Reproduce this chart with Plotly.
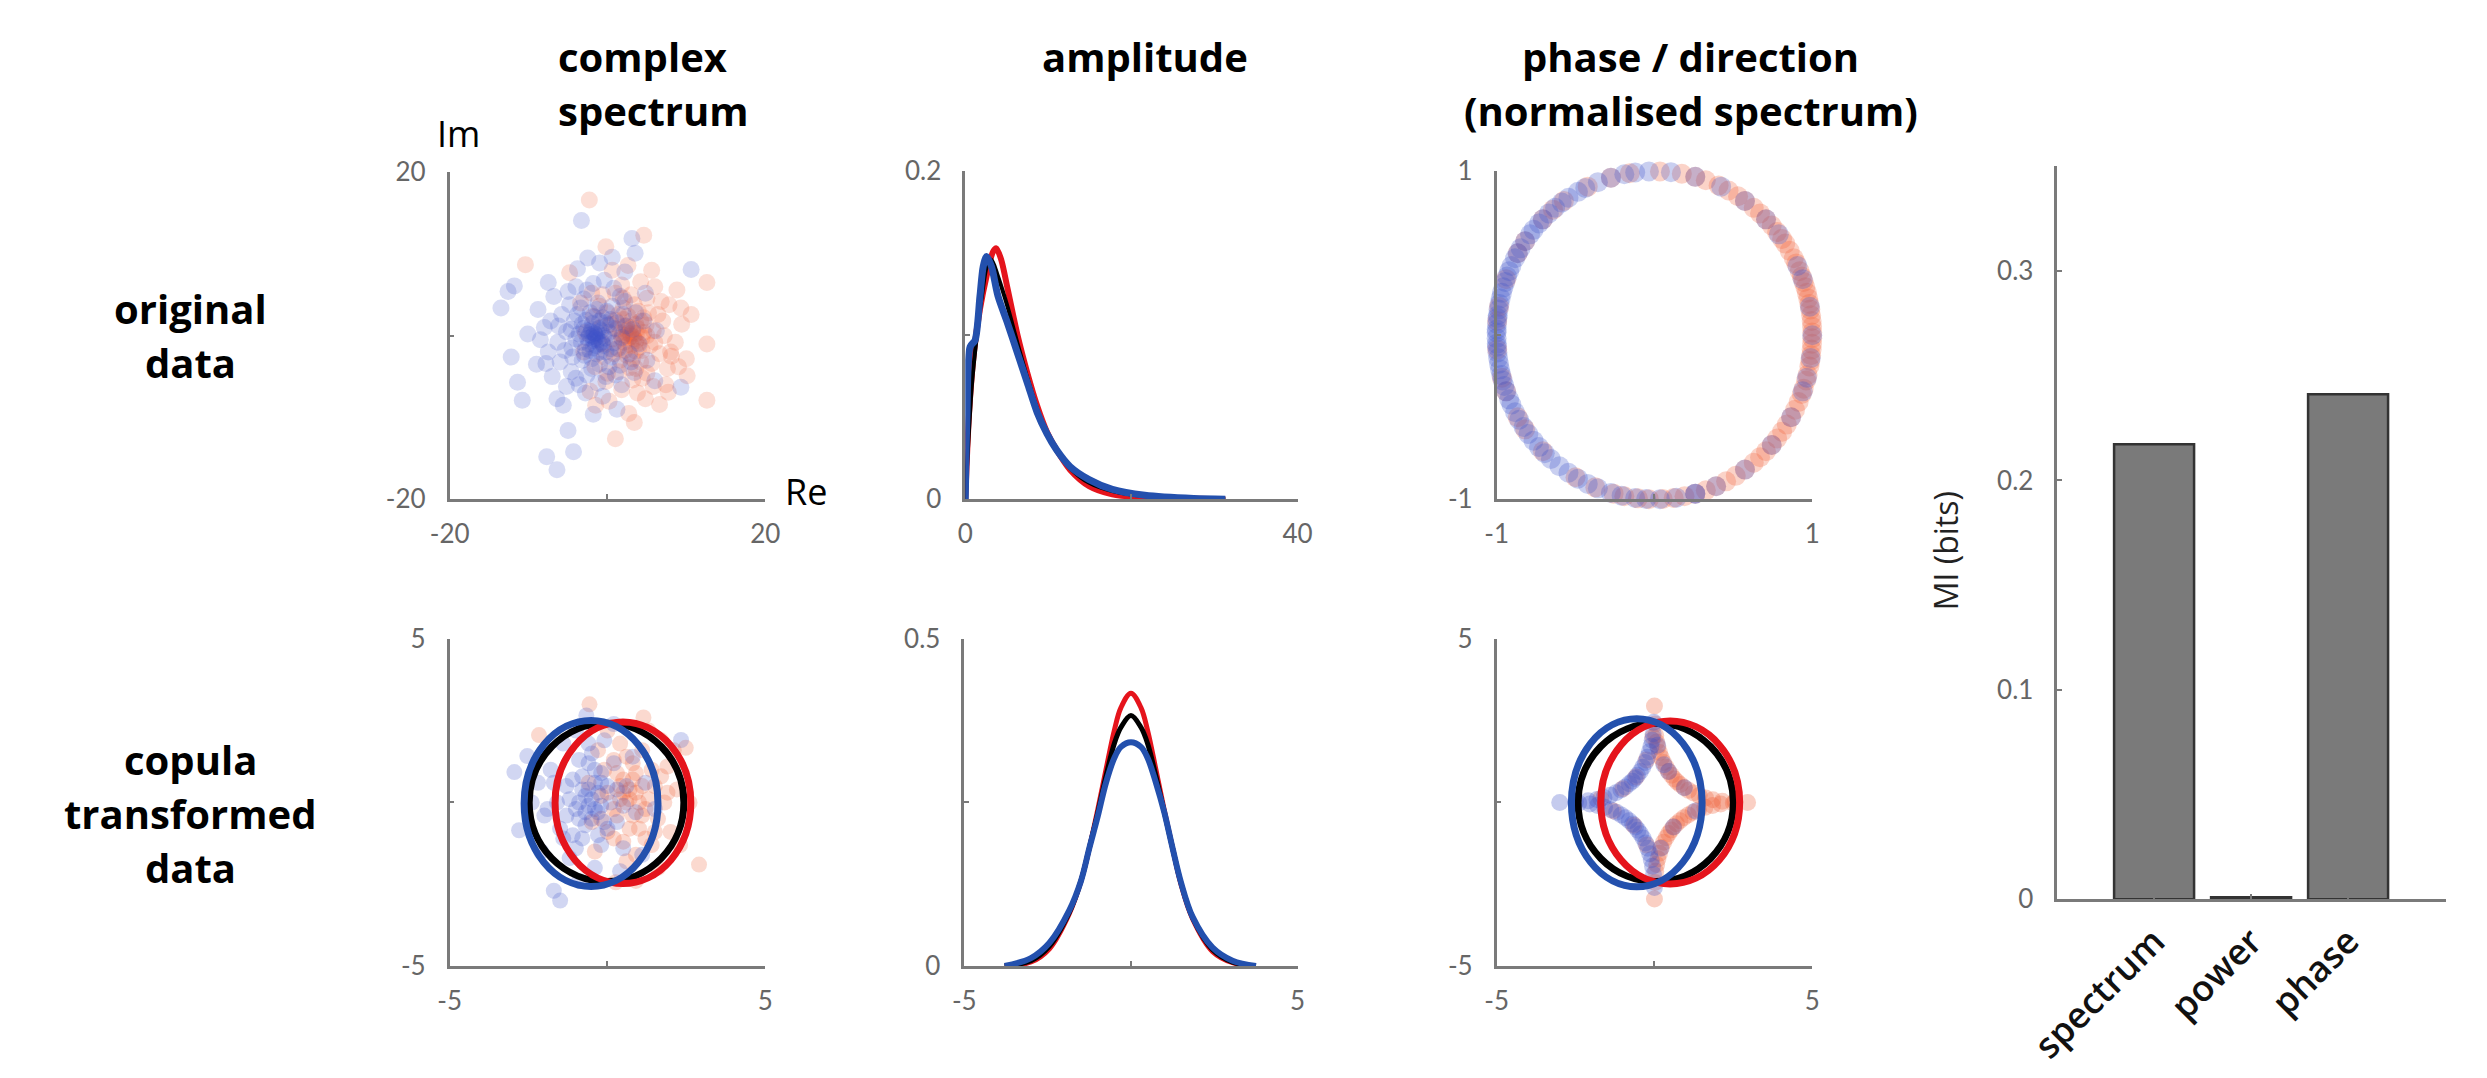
import numpy as np
import plotly.graph_objects as go

W, H = 2487, 1078

# ---------------- DATA ----------------
# Panel 1: complex spectrum (Re, Im) of original data, per class
SPEC_BLUE = [(-3.3, 14.1), (3.1, 11.9), (3.5, 10.1), (10.6, 8.1), (-11.8, 6.1), (-12.6, 5.4), (-13.5, 3.4),
             (-7.5, 6.5), (-10.1, 0.2), (-12.2, -2.6), (-11.4, -5.7), (-10.8, -7.9), (-5.0, -11.6), (-4.3, -14.2),
             (-7.7, -14.8), (-6.4, -16.4), (9.3, -6.3), (-6.4, -7.7), (-5.6, -8.5), (-1.0, 8.9),
             (-1.6, 0.2), (-2.0, 0.8), (-1.2, -0.5), (-2.5, -0.3), (-0.8, 0.6), (-1.9, 1.5), (-3.0, 0.9),
             (-0.5, -1.2), (-2.8, -1.6), (-1.4, -2.2), (0.2, 0.4), (-3.6, 0.2), (-4.2, 1.8), (-2.2, 2.8),
             (-0.6, 2.2), (0.8, -0.9), (-4.5, -1.5), (-3.2, -3.0), (-1.0, -3.5), (0.5, -2.6), (1.2, 1.6),
             (-5.2, 0.5), (-5.8, 2.6), (-4.8, 3.8), (-3.0, 4.5), (-1.2, 4.0), (0.6, 3.6), (1.8, -0.2),
             (2.4, 1.2), (-6.3, -0.8), (-6.0, -3.2), (-4.6, -4.4), (-2.6, -4.8), (-0.2, -5.0), (1.6, -3.6),
             (2.8, -2.2), (3.2, 0.8), (-7.2, 1.8), (-7.5, -2.0), (-6.8, 4.8), (-4.0, 6.0), (-1.8, 6.4),
             (0.8, 5.8), (2.2, 4.2), (3.6, 2.8), (4.0, -1.0), (-7.0, -5.0), (-5.2, -6.2), (-2.8, -7.0),
             (-0.6, -7.4), (1.8, -6.0), (3.4, -4.5), (4.6, 1.8), (5.0, -3.0), (-8.8, 3.2), (-8.5, -0.5),
             (-9.0, -3.5), (-3.8, 8.2), (-2.5, 9.5), (0.6, 9.6), (2.2, 7.8), (4.8, 5.2), (6.2, 0.6),
             (6.0, -5.5), (1.2, -9.0), (-1.8, -9.6), (-3.6, -6.0), (-1.8, -0.6), (-1.1, 0.9), (-2.3, 0.1),
             (-0.3, -0.3), (-1.5, -1.2), (-2.7, 1.9), (-0.9, -2.0), (0.0, 1.3), (-3.3, -0.8), (-1.7, 2.3),
             (-2.0, -2.8), (0.4, -1.6), (-4.0, -0.4), (-0.1, 3.0), (-1.5, 0.0), (-1.7, 0.3), (-1.4, -0.2),
             (-1.9, -0.1), (-1.3, 0.4), (-1.6, -0.4), (-2.1, 0.5),
             (-2.4, -1.0), (-0.7, -0.8), (-1.0, 1.8), (-3.8, 2.6), (-2.9, -2.4), (-0.2, -2.0), (0.9, 0.9),
             (-4.4, -2.6), (-3.4, 3.4), (-1.4, 3.2), (0.4, 2.0), (1.4, -1.6), (-2.0, -4.0), (-5.4, -1.8),
             (-6.2, 1.2), (-4.0, -5.2), (-1.2, -5.8), (0.2, -3.8), (2.0, 2.6), (-2.6, 5.6), (-5.0, 5.4),
             (-8.0, 1.0), (-7.8, -3.4), (1.0, -4.8), (3.0, -3.2), (-0.4, 6.8), (1.6, 4.8), (-2.2, -1.8),
             (-0.5, 0.0), (-2.6, 0.6), (-1.0, -1.0), (-3.2, 1.4), (-0.2, 1.6), (-1.8, -1.5), (-4.6, 0.8)]
SPEC_RED = [(-2.3, 16.6), (4.6, 12.3), (-10.4, 8.7), (12.6, 6.5), (12.6, -1.0), (12.6, -7.9), (1.0, -12.6),
            (2.7, -9.5), (10.1, -4.9), (9.3, 3.4), (-0.2, 10.9), (-4.8, 7.7), (8.1, -2.5), (7.7, -6.9),
            (4.8, -7.7), (-1.5, -8.5),
            (2.9, 0.2), (3.4, -0.4), (2.4, 0.7), (3.8, 0.9), (2.1, -0.8), (4.4, -0.2), (3.0, 1.8), (1.6, 0.3),
            (3.6, -1.9), (2.5, -2.4), (4.9, 1.3), (5.4, -1.2), (1.2, -1.6), (1.0, 1.9), (3.9, 3.0), (2.0, 3.4),
            (5.8, 0.6), (4.2, -3.2), (2.8, -3.9), (0.6, -0.4), (6.4, 2.6), (6.6, -2.2), (5.0, -4.6),
            (3.2, -5.4), (1.4, -4.4), (0.0, 2.8), (3.0, 5.0), (5.0, 4.6), (7.2, 0.0), (-0.4, -2.6),
            (-0.8, 1.0), (1.8, 6.2), (4.2, 6.6), (6.0, 6.0), (7.8, 3.8), (8.6, -0.8), (7.6, -4.0),
            (5.8, -6.2), (3.8, -7.0), (1.8, -6.6), (-0.2, -5.6), (-1.6, -3.8), (-1.8, 2.4), (-0.6, 5.0),
            (0.6, 8.0), (2.6, 8.6), (5.6, 8.0), (9.4, 1.4), (10.0, -2.8), (8.8, 5.6), (-2.8, 0.4),
            (-3.0, -2.0), (-2.0, 5.2), (-3.4, 4.0), (0.2, -8.0), (-2.2, -6.8), (6.6, -8.4), (3.4, -10.6),
            (10.6, 2.6), (3.0, 0.0), (2.7, -0.3), (3.2, 0.4), (2.6, 0.3), (3.3, -0.1), (2.2, 1.2),
            (3.7, 0.3), (2.4, -1.2), (3.9, -0.9), (1.9, 0.1), (4.6, 2.2), (1.4, 2.6), (4.4, -1.8),
            (3.6, 1.4), (2.2, -1.8), (4.6, 0.4), (1.2, 0.8), (3.2, -2.8), (5.2, 2.8), (2.6, 2.4), (4.0, -1.4),
            (6.0, -0.8), (1.6, -3.0), (0.4, 1.4), (3.4, 3.8), (5.6, -3.4), (7.0, 1.8), (2.0, 4.6), (4.4, -5.2),
            (0.8, -2.2), (6.8, 4.2), (8.0, -2.0), (-0.6, -1.0), (1.0, 5.2), (3.6, -4.0), (2.8, 1.0),
            (3.0, -1.2), (4.2, 1.8), (1.8, -0.4), (2.4, 0.0), (3.6, -0.6), (5.0, 0.0), (2.0, 2.0),
            (7.4, -6.0), (9.0, -3.8), (-1.0, 3.6), (0.0, -4.6)]

# Panel 2: amplitude densities
AMP_RED_X = [0, 0.45, 1.05, 1.77, 2.56, 3.34, 3.74, 4.33, 5.11, 6.29, 7.47, 8.65, 9.83, 11.0, 12.6, 14.9, 17.7, 21.6, 31.3]
AMP_RED_Y = [0, 0.052, 0.09, 0.116, 0.136, 0.151, 0.153, 0.146, 0.128, 0.100, 0.077, 0.057, 0.041, 0.030, 0.018, 0.008, 0.003, 0.001, 0]
AMP_ALL_X = [0, 0.8, 1.4, 2.0, 2.6, 3.15, 3.93, 5.11, 6.29, 7.47, 8.65, 9.83, 11.0, 12.6, 14.9, 17.7, 21.6, 31.3]
AMP_ALL_Y = [0, 0.07, 0.1, 0.124, 0.142, 0.146, 0.136, 0.117, 0.095, 0.074, 0.055, 0.040, 0.030, 0.019, 0.010, 0.005, 0.002, 0]
AMP_BLUE_X = [0, 0.2, 0.59, 1.18, 1.77, 2.16, 2.56, 3.15, 3.93, 5.11, 6.29, 7.47, 8.65, 9.83, 11.0, 12.6, 14.9, 17.7, 21.6, 27.5, 31.3]
AMP_BLUE_Y = [0, 0.05, 0.093, 0.097, 0.124, 0.142, 0.148, 0.142, 0.124, 0.107, 0.089, 0.071, 0.053, 0.040, 0.030, 0.020, 0.012, 0.006, 0.0024, 0.0004, 0]

# Panel 3: phase angles (degrees) of normalised spectrum
PHASE_BLUE_DEG = [84, 92, 97, 101, 106, 111, 116, 119, 123, 126, 129, 132, 135, 137, 140, 142, 145, 148, 150, 152,
                  155, 157, 159, 161, 163, 165, 167, 169, 171, 173, 174, 176, 178, 179, 181, 183, 184, 186, 188, 190,
                  192, 194, 196, 198, 200, 203, 205, 208, 211, 214, 217, 220, 223, 226, 229, 233, 237, 241, 245, 249,
                  254, 258, 263, 267, 272, 278, 285, 293, 45, 318,
                  10, 25, 38, 55, 330, 345, 352, 305, 65, 20, 0, 340, 285, 75]
PHASE_RED_DEG = [88, 80, 75, 71, 66, 62, 58, 55, 51, 48, 45, 42, 39, 36, 34, 31, 28, 26, 23, 21, 19, 17, 15, 13, 11,
                 9, 7, 5, 3, 1, 359, 357, 355, 353, 351, 349, 346, 344, 341, 339, 336, 333, 330, 327, 324, 321, 318,
                 315, 312, 309, 305, 301, 297, 293, 289, 285, 281, 277, 273, 268, 264, 259, 99, 106, 125, 150, 215, 248,
                 170, 160, 135, 195, 210, 225, 145, 185, 115, 240, 200, 130, 175, 255]

# Panel 4: copula-transformed complex spectrum
COP_SPEC_BLUE = [(-2.95, 0.93), (-2.54, 1.42), (2.33, 1.91), (-2.8, -0.85), (-1.7, -2.7), (-1.5, -3.0), (-0.67, 2.66),
                 (-0.5, 0.1), (-0.8, 0.4), (-0.3, -0.3), (-1.0, -0.2), (-0.2, 0.6), (-0.7, -0.7), (-1.3, 0.5),
                 (0.1, 0.0), (-0.4, 1.0), (-1.1, -1.0), (0.3, -0.6), (-1.6, 0.0), (-0.9, 1.3), (0.2, 1.2),
                 (-0.2, -1.3), (-1.5, -0.8), (0.6, 0.5), (-1.8, 1.0), (-0.6, 1.8), (0.5, -1.4), (-1.2, -1.7),
                 (-2.0, -0.4), (0.9, -0.3), (-0.1, 1.9), (-2.2, 0.6), (-1.4, 1.8), (0.8, 1.4), (-0.4, -2.0),
                 (0.4, -2.1), (-2.1, -1.5), (1.2, 0.6), (-1.0, 2.2), (0.2, 2.4), (-0.9, -2.4), (1.1, -1.6),
                 (-2.4, 0.0), (1.5, -0.2), (0.0, -0.8), (-0.6, -0.1), (-0.3, 0.3), (-0.9, 0.0), (-0.5, -0.5),
                 (-0.2, -0.1), (-0.7, 0.2), (-1.2, 0.1), (-0.4, 0.6), (-0.9, -0.5), (-0.1, -0.6), (-0.6, 1.2),
                 (-1.3, -0.4), (0.3, 0.4), (-0.3, -1.0), (-1.7, 0.6), (-0.8, 0.8), (0.5, -0.1), (-1.0, -1.4),
                 (-0.5, 1.5), (-1.9, -0.2), (-0.4, -0.2), (-0.7, -0.3), (-1.1, 0.7), (-0.2, 0.9), (-0.6, 0.4),
                 (0.0, 0.5), (-1.4, -1.1), (-0.8, -1.1)]
COP_SPEC_RED = [(-0.57, 3.0), (-2.17, 2.06), (1.14, 2.6), (2.48, 1.67), (2.9, -1.9), (0.26, -2.44),
                (0.6, 0.0), (0.9, 0.3), (0.3, -0.4), (1.2, -0.2), (0.5, 0.7), (1.0, -0.8), (0.0, 0.3), (1.5, 0.5),
                (0.2, -1.1), (1.4, -1.3), (0.8, 1.2), (-0.2, -0.5), (1.8, 0.0), (1.1, 1.6), (-0.1, 1.0),
                (2.0, -0.9), (0.4, 1.8), (0.6, -1.8), (1.9, 1.1), (-0.4, -1.5), (2.2, 0.4), (1.6, -2.0),
                (-0.3, 1.6), (2.3, -1.3), (0.0, 2.2), (1.3, 2.2), (0.9, -2.4), (2.6, 0.0), (-0.6, 0.6),
                (1.7, 1.9), (-0.5, -0.6), (2.1, 1.6), (0.7, 0.4), (1.0, 0.0), (0.4, 0.1), (0.8, -0.4),
                (0.5, 0.3), (1.1, 0.5), (0.2, -0.2), (1.3, 0.1), (0.7, -0.8), (0.3, 0.9), (1.6, -0.5),
                (0.9, 0.9), (0.0, -0.9), (1.2, -1.1), (0.6, 1.4), (1.9, 0.3), (0.5, -1.2), (1.4, 1.0),
                (-0.2, 0.2), (0.9, -1.6), (0.7, 0.1), (1.1, -0.4), (0.4, 0.5), (1.5, -0.9), (0.8, 0.7),
                (0.2, 1.3), (1.7, 0.8)]
# Gaussian contour ellipses (order: all, red, blue)
COP_SPEC_ELL_CX = [-0.03, 0.49, -0.52]
COP_SPEC_ELL_CY = [0.0, -0.01, -0.03]
COP_SPEC_ELL_RX = [2.45, 2.15, 2.12]
COP_SPEC_ELL_RY = [2.42, 2.47, 2.54]

# Panel 5: copula-transformed amplitude densities
COP_AMP_X = [-3.79, -3.0, -2.45, -1.85, -1.5, -1.25, -1.0, -0.75, -0.5, -0.3, 0, 0.3, 0.5, 0.75, 1.0, 1.25, 1.5, 1.85, 2.45, 3.05, 3.75]
COP_AMP_RED = [0, 0.006, 0.026, 0.08, 0.13, 0.18, 0.238, 0.30, 0.36, 0.395, 0.417, 0.395, 0.36, 0.30, 0.238, 0.18, 0.125, 0.072, 0.022, 0.005, 0]
COP_AMP_ALL = [0, 0.008, 0.03, 0.082, 0.13, 0.18, 0.233, 0.29, 0.34, 0.365, 0.383, 0.365, 0.34, 0.29, 0.235, 0.18, 0.127, 0.074, 0.025, 0.006, 0]
COP_AMP_BLUE = [0, 0.012, 0.035, 0.085, 0.13, 0.18, 0.228, 0.28, 0.318, 0.335, 0.342, 0.335, 0.318, 0.28, 0.235, 0.18, 0.128, 0.075, 0.028, 0.008, 0]

# Panel 6: copula-transformed phase (cos, sin) points
COP_PHASE_BLUE = [(-0.02, 2.45), (-0.04, 2.1), (-0.07, 1.9), (-0.11, 1.72), (-0.16, 1.55), (-0.22, 1.38),
                  (-0.29, 1.22), (-0.37, 1.08), (-0.45, 0.95), (-0.54, 0.83), (-0.62, 0.73), (-0.7, 0.65),
                  (-0.8, 0.57), (-0.92, 0.47), (-1.06, 0.38), (-1.22, 0.3), (-1.4, 0.22), (-1.6, 0.15),
                  (-1.82, 0.09), (-2.1, 0.05), (-2.5, 0.02), (-3.0, 0.0),
                  (-2.4, -0.02), (-2.05, -0.05), (-1.8, -0.09), (-1.58, -0.15), (-1.38, -0.22), (-1.2, -0.3),
                  (-1.05, -0.38), (-0.92, -0.47), (-0.8, -0.56), (-0.69, -0.66), (-0.6, -0.75), (-0.52, -0.85),
                  (-0.44, -0.96), (-0.36, -1.09), (-0.28, -1.24), (-0.21, -1.4), (-0.15, -1.57), (-0.1, -1.75),
                  (-0.06, -1.95), (-0.03, -2.2), (0.0, -2.6),
                  (0.1, 1.75), (0.45, 0.95), (0.95, 0.45), (0.3, 1.15), (0.6, -0.75), (1.3, -0.26), (0.2, -1.4)]
COP_PHASE_RED = [(0.0, 2.95), (0.02, 2.4), (0.04, 2.05), (0.07, 1.85), (0.11, 1.7), (0.16, 1.53), (0.22, 1.37),
                 (0.29, 1.22), (0.37, 1.08), (0.45, 0.95), (0.54, 0.83), (0.63, 0.72), (0.72, 0.63), (0.82, 0.55),
                 (0.94, 0.46), (1.08, 0.37), (1.24, 0.29), (1.42, 0.21), (1.62, 0.14), (1.85, 0.08), (2.15, 0.04),
                 (2.55, 0.02), (2.95, 0.0),
                 (2.5, -0.02), (2.1, -0.05), (1.84, -0.09), (1.6, -0.15), (1.4, -0.22), (1.22, -0.3),
                 (1.07, -0.38), (0.93, -0.47), (0.81, -0.56), (0.7, -0.65), (0.61, -0.74), (0.53, -0.84),
                 (0.45, -0.95), (0.37, -1.08), (0.29, -1.22), (0.22, -1.38), (0.16, -1.55), (0.11, -1.72),
                 (0.07, -1.9), (0.04, -2.1), (0.02, -2.45), (0.0, -2.95),
                 (-0.05, 2.0), (-0.25, 1.3), (-0.58, 0.78), (-1.0, 0.42), (-1.7, 0.12), (-0.65, -0.7),
                 (-0.25, -1.3), (-1.3, -0.26)]
COP_PHASE_ELL_CX = [0.04, 0.5, -0.56]
COP_PHASE_ELL_CY = [0.0, 0.0, -0.01]
COP_PHASE_ELL_RX = [2.46, 2.2, 2.07]
COP_PHASE_ELL_RY = [2.42, 2.49, 2.57]

# Bar chart: mutual information
MI_LABELS = ["spectrum", "power", "phase"]
MI_VALUES = [0.217, 0.0006, 0.241]

# Column / row titles
COL_TITLES = [["complex", "spectrum"], ["amplitude"], ["phase / direction", "(normalised spectrum)"]]
ROW_TITLES = [["original", "data"], ["copula", "transformed", "data"]]

# ---------------- STYLE ----------------
BLUE_PT = "rgba(62,82,200,{})"
RED_PT = "rgba(240,96,56,{})"
LINE_BLUE = "#2350ad"
LINE_RED = "#e5141c"
LINE_BLACK = "#000000"
AX_COLOR = "#7a7a7a"
TICK_FONT = dict(family="Lato, 'Open Sans', sans-serif", size=26, color="#666666")
TITLE_FONT = dict(family="'Open Sans', sans-serif", size=40, color="#000000", weight="bold")

# pixel boxes (left, right, top, bottom)
BOX = {
    1: (424, 746, 160, 497),
    2: (950, 1289, 159, 497),
    3: (1492, 1814, 159, 497),
    4: (424, 746, 641, 978),
    5: (949, 1289, 641, 978),
    6: (1492, 1814, 641, 978),
    7: (2064, 2460, 154, 909),
}


def px(x):
    return x / W


def py(y):
    return 1 - y / H


def sfx(i):
    return "" if i == 1 else str(i)


fig = go.Figure()


def add(tr, i):
    tr.update(xaxis="x" + sfx(i), yaxis="y" + sfx(i))
    fig.add_trace(tr)


def pts(pairs):
    return [p[0] for p in pairs], [p[1] for p in pairs]


# Panel 1
for data, col in ((SPEC_RED, RED_PT), (SPEC_BLUE, BLUE_PT)):
    x, y = pts(data)
    add(go.Scatter(x=x, y=y, mode="markers", cliponaxis=False,
                   marker=dict(size=17, color=col.format(0.2), line=dict(width=0))), 1)

# Panel 2
add(go.Scatter(x=AMP_RED_X, y=AMP_RED_Y, mode="lines",
               line=dict(color=LINE_RED, width=6, shape="spline", smoothing=0.8)), 2)
add(go.Scatter(x=AMP_ALL_X, y=AMP_ALL_Y, mode="lines",
               line=dict(color=LINE_BLACK, width=4, shape="spline", smoothing=0.8)), 2)
add(go.Scatter(x=AMP_BLUE_X, y=AMP_BLUE_Y, mode="lines",
               line=dict(color=LINE_BLUE, width=7, shape="spline", smoothing=0.8)), 2)

# Panel 3
for deg, col in ((PHASE_RED_DEG, RED_PT), (PHASE_BLUE_DEG, BLUE_PT)):
    th = np.deg2rad(np.array(deg, dtype=float))
    add(go.Scatter(x=np.cos(th), y=np.sin(th), mode="markers", cliponaxis=False,
                   marker=dict(size=20, color=col.format(0.28), line=dict(width=0))), 3)

# Panel 4
for data, col in ((COP_SPEC_RED, RED_PT), (COP_SPEC_BLUE, BLUE_PT)):
    x, y = pts(data)
    add(go.Scatter(x=x, y=y, mode="markers", cliponaxis=False,
                   marker=dict(size=16, color=col.format(0.24), line=dict(width=0))), 4)

# Panel 5
add(go.Scatter(x=COP_AMP_X, y=COP_AMP_RED, mode="lines", line=dict(color=LINE_RED, width=5, shape="spline")), 5)
add(go.Scatter(x=COP_AMP_X, y=COP_AMP_ALL, mode="lines", line=dict(color=LINE_BLACK, width=5, shape="spline")), 5)
add(go.Scatter(x=COP_AMP_X, y=COP_AMP_BLUE, mode="lines", line=dict(color=LINE_BLUE, width=6, shape="spline")), 5)

# Panel 6
for data, col in ((COP_PHASE_RED, RED_PT), (COP_PHASE_BLUE, BLUE_PT)):
    x, y = pts(data)
    add(go.Scatter(x=x, y=y, mode="markers", cliponaxis=False,
                   marker=dict(size=17, color=col.format(0.3), line=dict(width=0))), 6)

# Panel 7: bars
add(go.Bar(x=[1, 2, 3], y=MI_VALUES, width=0.82,
           marker=dict(color="#7a7a7a", line=dict(color="#333333", width=2.5))), 7)

shapes = []
ELL_COLORS = [LINE_BLACK, LINE_RED, LINE_BLUE]
for i, (cx, cy, rx, ry) in ((4, (COP_SPEC_ELL_CX, COP_SPEC_ELL_CY, COP_SPEC_ELL_RX, COP_SPEC_ELL_RY)),
                            (6, (COP_PHASE_ELL_CX, COP_PHASE_ELL_CY, COP_PHASE_ELL_RX, COP_PHASE_ELL_RY))):
    for k in range(3):
        shapes.append(dict(type="circle", xref="x" + sfx(i), yref="y" + sfx(i),
                           x0=cx[k] - rx[k], x1=cx[k] + rx[k], y0=cy[k] - ry[k], y1=cy[k] + ry[k],
                           line=dict(color=ELL_COLORS[k], width=7), layer="above"))

AX_RANGES = {
    1: ([-20, 20], [-20, 20], [-20, 0, 20], ["-20", "", "20"], [-20, 0, 20], ["-20", "", "20"]),
    2: ([0, 40], [0, 0.2], [0, 20, 40], ["0", "", "40"], [0, 0.1, 0.2], ["0", "", "0.2"]),
    3: ([-1, 1], [-1, 1], [-1, 0, 1], ["-1", "", "1"], [-1, 0, 1], ["-1", "", "1"]),
    4: ([-5, 5], [-5, 5], [-5, 0, 5], ["-5", "", "5"], [-5, 0, 5], ["-5", "", "5"]),
    5: ([-5, 5], [0, 0.5], [-5, 0, 5], ["-5", "", "5"], [0, 0.25, 0.5], ["0", "", "0.5"]),
    6: ([-5, 5], [-5, 5], [-5, 0, 5], ["-5", "", "5"], [-5, 0, 5], ["-5", "", "5"]),
    7: ([0, 4], [0, 0.35], [1, 2, 3], MI_LABELS, [0, 0.1, 0.2, 0.3], ["0", "0.1", "0.2", "0.3"]),
}

layout = dict(width=W, height=H, margin=dict(l=0, r=0, t=0, b=0), showlegend=False,
              paper_bgcolor="white", plot_bgcolor="white", shapes=shapes, bargap=0)

common = dict(showline=True, linecolor=AX_COLOR, linewidth=2.5, ticks="inside", ticklen=5,
              tickwidth=1.5, tickcolor=AX_COLOR, showgrid=False, zeroline=False, fixedrange=True)

for i, (l, r, t, b) in BOX.items():
    xr, yr, xv, xt, yv, yt = AX_RANGES[i]
    xa = dict(common, domain=[px(l), px(r)], anchor="y" + sfx(i), range=xr, tickvals=xv, ticktext=xt,
              tickfont=TICK_FONT, ticklabelstandoff=10, tickangle=0)
    ya = dict(common, domain=[py(b), py(t)], anchor="x" + sfx(i), range=yr, tickvals=yv, ticktext=yt,
              tickfont=TICK_FONT, ticklabelstandoff=16)
    if i == 7:
        xa.update(tickangle=-45, ticklabelstandoff=4,
                  tickfont=dict(family="'Open Sans', sans-serif", size=36, color="#111111", weight=600))
    layout["xaxis" + sfx(i)] = xa
    layout["yaxis" + sfx(i)] = ya

ann = []


def text(t, x, y, size=40, bold=True, xanchor="center", angle=0, color="#000000"):
    f = dict(TITLE_FONT) if bold else dict(family="'Open Sans', sans-serif", size=size, color=color)
    f["size"] = size
    ann.append(dict(text=t, x=px(x), y=py(y), xref="paper", yref="paper", showarrow=False,
                    xanchor=xanchor, yanchor="middle", font=f, textangle=angle))


# column titles
text(COL_TITLES[0][0], 533, 41, xanchor="left")
text(COL_TITLES[0][1], 533, 96, xanchor="left")
text(COL_TITLES[1][0], 1133, 41)
text(COL_TITLES[2][0], 1690, 41)
text(COL_TITLES[2][1], 1690, 96)
# row titles
for k, line in enumerate(ROW_TITLES[0]):
    text(line, 160, 300 + 56 * k)
for k, line in enumerate(ROW_TITLES[1]):
    text(line, 160, 765 + 56 * k)
# axis labels
text("Im", 433, 120, size=36, bold=False, color="#000000")
text("Re", 788, 489, size=36, bold=False, color="#000000")
text("MI (bits)", 1950, 550, size=32, bold=False, angle=-90, color="#222222")

layout["annotations"] = ann
fig.update_layout(**layout)
fig.write_html("out.html")
